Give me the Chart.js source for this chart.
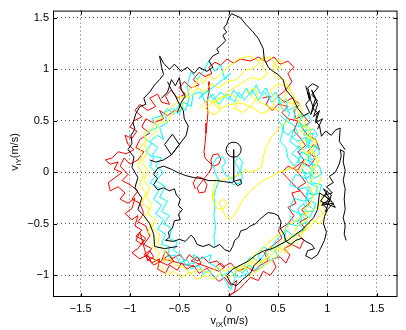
<!DOCTYPE html>
<html>
<head>
<meta charset="utf-8">
<script src="https://cdn.jsdelivr.net/npm/chart.js@4"></script>
<style>
  body { margin: 0; background: #fff; }
  canvas { display: block; }
</style>
</head>
<body>
<canvas id="traj" width="406" height="330"></canvas>
<script>
// axis ticks
const xTicks = [-1.5, -1, -0.5, 0, 0.5, 1, 1.5];
const yTicks = [-1, -0.5, 0, 0.5, 1, 1.5];

// start marker (black circle)
const blackStart = [[0.05, 0.22]];

// black traces
const blackInner = [[0.05,0.22],[0.05,0.12],[0.05,0.02],[0.05,-0.08],[0.09,-0.13],[0.13,-0.11],[0.12,-0.07],[0.07,-0.08],[0.03,-0.1],[-0.05,-0.09],[-0.12,-0.08],[-0.2,-0.08],[-0.28,-0.06],[-0.36,-0.05],[-0.44,-0.03],[-0.52,0.0],[-0.58,0.03],[-0.66,0.06],[-0.72,0.04],[-0.76,-0.02],[-0.72,-0.06],[-0.76,-0.12],[-0.72,-0.17],[-0.66,-0.15],[-0.6,-0.18],[-0.55,-0.16],[-0.53,-0.22],[-0.49,-0.26],[-0.51,-0.32],[-0.47,-0.36],[-0.51,-0.41],[-0.49,-0.46],[-0.55,-0.47],[-0.57,-0.54],[-0.61,-0.58],[-0.6,-0.63],[-0.64,-0.66],[-0.56,-0.67],[-0.5,-0.65],[-0.44,-0.67],[-0.38,-0.61],[-0.35,-0.64],[-0.32,-0.7],[-0.26,-0.72],[-0.2,-0.7],[-0.15,-0.73],[-0.09,-0.7],[-0.04,-0.75],[0.01,-0.77],[0.04,-0.72],[0.06,-0.66],[0.1,-0.63],[0.12,-0.57],[0.18,-0.55],[0.22,-0.52],[0.27,-0.5],[0.31,-0.46],[0.36,-0.42],[0.4,-0.39],[0.46,-0.4],[0.5,-0.42],[0.53,-0.48],[0.52,-0.54],[0.56,-0.6],[0.58,-0.67],[0.63,-0.7],[0.68,-0.66],[0.74,-0.64],[0.78,-0.67],[0.84,-0.7],[0.87,-0.74],[0.8,-0.76],[0.78,-0.81],[0.84,-0.84],[0.9,-0.8],[0.93,-0.74],[0.97,-0.66],[0.99,-0.58],[0.96,-0.5],[0.97,-0.43],[1.0,-0.36],[0.95,-0.3],[1.03,-0.28],[0.97,-0.22],[1.05,-0.2],[0.99,-0.14],[1.06,-0.1],[1.02,-0.04],[1.08,0.0],[1.12,0.08],[1.14,0.16],[1.13,0.22],[1.17,0.2],[1.16,0.1],[1.18,0.02],[1.16,-0.08],[1.18,-0.16],[1.17,-0.26],[1.18,-0.36],[1.16,-0.44],[1.18,-0.52],[1.17,-0.6],[1.19,-0.66]];
const blackOuter = [[1.18,0.22],[1.12,0.3],[1.13,0.43],[1.08,0.41],[1.04,0.36],[0.98,0.4],[0.94,0.35],[0.92,0.45],[0.88,0.5],[0.9,0.58],[0.85,0.62],[0.9,0.7],[0.84,0.75],[0.91,0.83],[0.85,0.86],[0.8,0.82],[0.83,0.72],[0.78,0.66],[0.82,0.58],[0.76,0.55],[0.7,0.62],[0.65,0.72],[0.58,0.8],[0.55,0.9],[0.5,0.95],[0.45,0.98],[0.4,1.02],[0.36,1.1],[0.35,1.2],[0.3,1.3],[0.24,1.37],[0.17,1.44],[0.12,1.5],[0.03,1.54],[0.0,1.5],[-0.02,1.44],[-0.05,1.4],[-0.02,1.36],[-0.06,1.33],[-0.03,1.28],[-0.08,1.23],[-0.12,1.2],[-0.1,1.16],[-0.16,1.13],[-0.2,1.08],[-0.16,1.02],[-0.22,0.98],[-0.3,1.02],[-0.35,0.96],[-0.42,1.02],[-0.48,0.98],[-0.55,1.05],[-0.6,1.0],[-0.66,1.06],[-0.7,1.13],[-0.68,1.02],[-0.66,0.95],[-0.7,0.9],[-0.75,0.85],[-0.8,0.78],[-0.86,0.72],[-0.84,0.66],[-0.9,0.64],[-0.94,0.57],[-0.97,0.48],[-0.95,0.42],[-0.99,0.36],[-0.98,0.28],[-1.02,0.22],[-0.96,0.15],[-0.98,0.05],[-0.92,-0.05],[-0.95,-0.15],[-0.88,-0.25],[-0.92,-0.36],[-0.86,-0.42],[-0.8,-0.5],[-0.76,-0.6],[-0.75,-0.72],[-0.65,-0.74],[-0.52,-0.72]];
const blackDiamond = [[-0.62,0.88],[-0.58,0.8],[-0.54,0.74],[-0.5,0.66],[-0.46,0.6],[-0.45,0.52],[-0.41,0.45],[-0.43,0.36],[-0.5,0.27],[-0.57,0.37],[-0.65,0.27],[-0.58,0.17],[-0.5,0.27],[-0.58,0.17],[-0.66,0.12],[-0.74,0.1],[-0.8,0.12]];
const blackBottom = [[0.33,-0.84],[0.26,-0.9],[0.22,-0.98],[0.14,-1.04],[0.08,-1.1],[0.02,-1.08],[-0.02,-1.0],[0.04,-0.94],[0.12,-0.9],[0.2,-0.86],[0.28,-0.8],[0.36,-0.76],[0.44,-0.74],[0.52,-0.7],[0.6,-0.66],[0.68,-0.6],[0.74,-0.56],[0.8,-0.5],[0.86,-0.44],[0.9,-0.36],[0.92,-0.2],[1.02,-0.26],[0.94,-0.32],[1.06,-0.3],[0.98,-0.38],[1.04,-0.22],[0.96,-0.16],[1.08,-0.34],[0.93,-0.28],[1.0,-0.18]];
const blackJagRight = [[0.78,0.84],[0.82,0.7],[0.8,0.78],[0.86,0.62],[0.83,0.56],[0.88,0.72],[0.84,0.8],[0.9,0.66],[0.86,0.54],[0.92,0.6],[0.88,0.48],[0.95,0.52],[0.9,0.42]];
const blackJagLeft = [[-0.68,0.72],[-0.62,0.78],[-0.58,0.9],[-0.54,0.84],[-0.5,0.92],[-0.48,0.8],[-0.44,0.74],[-0.48,0.68],[-0.52,0.58]];

// yellow traces
const yellowRing = [[0.22,1.13],[0.3,1.08],[0.37,1.12],[0.34,1.02],[0.4,0.96],[0.32,0.9],[0.22,0.92],[0.12,0.86],[0.0,0.79],[-0.08,0.72],[-0.16,0.67],[-0.1,0.62],[0.02,0.66],[0.14,0.67],[0.25,0.62],[0.34,0.57],[0.44,0.62],[0.47,0.7],[0.42,0.8],[0.5,0.86],[0.6,0.83],[0.66,0.74],[0.66,0.64],[0.72,0.56],[0.78,0.48],[0.72,0.4],[0.82,0.34],[0.9,0.3],[0.84,0.2],[0.92,0.12],[0.86,0.02],[0.94,-0.06],[0.88,-0.16],[0.96,-0.24],[0.9,-0.34],[0.98,-0.42],[0.92,-0.5],[0.84,-0.46],[0.78,-0.54],[0.72,-0.64],[0.64,-0.7],[0.58,-0.78],[0.5,-0.72],[0.42,-0.82],[0.34,-0.88],[0.26,-0.84],[0.2,-0.94],[0.12,-0.9],[0.06,-0.98],[0.0,-1.02],[-0.08,-0.98],[-0.16,-1.04],[-0.24,-1.0],[-0.32,-1.04],[-0.4,-0.97],[-0.48,-1.02],[-0.56,-0.96],[-0.62,-1.0],[-0.68,-0.92],[-0.74,-0.86],[-0.7,-0.78],[-0.78,-0.72],[-0.74,-0.64],[-0.82,-0.58],[-0.78,-0.5],[-0.86,-0.44],[-0.8,-0.36],[-0.88,-0.3],[-0.84,-0.2],[-0.9,-0.12],[-0.86,-0.02],[-0.92,0.06],[-0.88,0.16],[-0.9,0.24],[-0.84,0.3],[-0.86,0.38],[-0.78,0.42],[-0.74,0.5],[-0.66,0.54],[-0.6,0.62],[-0.54,0.66],[-0.5,0.74],[-0.44,0.72],[-0.4,0.8],[-0.34,0.84],[-0.3,0.92],[-0.26,0.86],[-0.2,0.94],[-0.14,0.9],[-0.06,0.98],[0.02,1.04],[0.1,1.1],[0.22,1.13]];
const yellowRing2 = [[0.5,1.0],[0.56,1.06],[0.5,1.1],[0.44,1.02],[0.48,0.92],[0.56,0.9],[0.62,0.82],[0.56,0.74],[0.62,0.66],[0.7,0.7],[0.74,0.6],[0.68,0.52],[0.76,0.46],[0.84,0.42],[0.8,0.32],[0.72,0.28],[0.78,0.18],[0.86,0.2],[0.9,0.08],[0.82,0.04],[0.86,-0.06],[0.8,-0.12],[0.86,-0.22],[0.82,-0.32],[0.76,-0.36],[0.8,-0.46],[0.7,-0.52],[0.64,-0.62],[0.56,-0.66],[0.5,-0.76],[0.42,-0.72],[0.38,-0.84],[0.28,-0.9],[0.22,-0.86],[0.14,-0.96],[0.04,-0.92],[-0.04,-0.96],[-0.12,-0.92],[-0.2,-0.98],[-0.3,-0.94],[-0.38,-0.98],[-0.46,-0.92],[-0.54,-0.9],[-0.6,-0.84],[-0.66,-0.86],[-0.64,-0.76],[-0.72,-0.7],[-0.7,-0.6],[-0.78,-0.54],[-0.74,-0.46],[-0.82,-0.4],[-0.78,-0.3],[-0.84,-0.24],[-0.8,-0.14],[-0.86,-0.08],[-0.82,0.02],[-0.88,0.1],[-0.82,0.2],[-0.86,0.28],[-0.8,0.34],[-0.74,0.4],[-0.7,0.48],[-0.62,0.5],[-0.56,0.58],[-0.48,0.62],[-0.46,0.72],[-0.38,0.74],[-0.32,0.82],[-0.24,0.78],[-0.18,0.86],[-0.1,0.82],[-0.02,0.88],[0.08,0.9],[0.16,0.98],[0.26,1.02],[0.34,1.1],[0.42,1.12],[0.5,1.0]];
const yellowDiag = [[0.1,-0.95],[0.18,-0.88],[0.26,-0.8],[0.34,-0.74],[0.4,-0.68],[0.48,-0.62],[0.56,-0.58],[0.62,-0.5],[0.7,-0.46],[0.78,-0.4],[0.86,-0.36],[0.94,-0.3],[0.98,-0.38],[0.9,-0.45],[0.8,-0.55],[0.7,-0.6],[0.6,-0.7],[0.5,-0.8],[0.4,-0.88],[0.3,-0.95],[0.2,-1.02]];
const yellowCenter = [[0.6,0.5],[0.53,0.45],[0.44,0.35],[0.38,0.25],[0.35,0.15],[0.33,0.05],[0.28,0.02],[0.2,0.0],[0.17,0.03],[0.12,-0.02],[0.02,-0.05],[-0.08,-0.08],[-0.13,-0.08],[-0.16,-0.18],[-0.16,-0.27],[-0.12,-0.35],[-0.06,-0.36],[-0.02,-0.31],[-0.05,-0.26],[-0.1,-0.29],[-0.08,-0.33],[-0.03,-0.43],[0.0,-0.46],[0.07,-0.4],[0.14,-0.27],[0.22,-0.18],[0.27,-0.14],[0.34,-0.08],[0.42,-0.05],[0.5,0.0],[0.58,0.02],[0.65,0.05],[0.72,0.0],[0.8,0.15],[0.85,0.3],[0.78,0.45]];
const yellowLoops = [[-0.3,0.62],[-0.22,0.7],[-0.12,0.68],[-0.08,0.6],[-0.16,0.56],[-0.24,0.62],[-0.1,0.72],[0.04,0.76],[0.1,0.7],[0.06,0.62],[0.14,0.58],[0.24,0.66],[0.3,0.74],[0.26,0.82],[0.18,0.78],[0.28,0.7],[0.4,0.64],[0.5,0.6],[0.56,0.66],[0.52,0.72]];

// cyan traces
const cyanRing = [[-0.3,0.72],[-0.22,0.8],[-0.15,0.7],[-0.08,0.78],[0.0,0.7],[0.05,0.8],[0.12,0.72],[0.18,0.82],[0.22,0.74],[0.28,0.85],[0.32,0.76],[0.38,0.82],[0.42,0.72],[0.48,0.78],[0.52,0.66],[0.58,0.72],[0.6,0.6],[0.68,0.64],[0.66,0.52],[0.74,0.56],[0.7,0.44],[0.8,0.46],[0.76,0.36],[0.86,0.38],[0.8,0.26],[0.9,0.24],[0.82,0.15],[0.74,0.2],[0.7,0.1],[0.8,0.06],[0.88,0.0],[0.78,-0.06],[0.68,-0.02],[0.62,-0.12],[0.72,-0.16],[0.82,-0.14],[0.86,-0.24],[0.76,-0.28],[0.66,-0.25],[0.62,-0.36],[0.72,-0.4],[0.8,-0.48],[0.7,-0.52],[0.6,-0.5],[0.55,-0.6],[0.48,-0.66],[0.42,-0.76],[0.35,-0.72],[0.3,-0.82],[0.36,-0.9],[0.28,-0.95],[0.2,-0.9],[0.14,-0.98],[0.08,-0.92],[0.06,-1.04],[0.02,-1.14],[-0.03,-1.06],[-0.08,-0.98],[-0.14,-1.03],[-0.2,-0.95],[-0.26,-0.99],[-0.3,-0.9],[-0.38,-0.94],[-0.42,-0.85],[-0.5,-0.88],[-0.54,-0.8],[-0.62,-0.82],[-0.6,-0.72],[-0.68,-0.7],[-0.64,-0.6],[-0.72,-0.55],[-0.66,-0.46],[-0.74,-0.4],[-0.68,-0.32],[-0.76,-0.26],[-0.7,-0.16],[-0.8,-0.1],[-0.72,-0.02],[-0.8,0.06],[-0.76,0.14],[-0.84,0.2],[-0.78,0.28],[-0.86,0.34],[-0.8,0.4],[-0.72,0.44],[-0.78,0.52],[-0.68,0.55],[-0.62,0.62],[-0.56,0.56],[-0.5,0.66],[-0.44,0.6],[-0.4,0.72],[-0.42,0.85],[-0.38,0.98],[-0.32,0.9],[-0.26,0.98],[-0.2,1.08],[-0.14,0.98],[-0.08,1.05],[-0.04,0.9],[0.02,0.96],[-0.3,0.72]];
const cyanRing2 = [[0.7,0.3],[0.78,0.34],[0.82,0.28],[0.76,0.22],[0.7,0.26],[0.74,0.14],[0.84,0.1],[0.86,0.02],[0.78,-0.02],[0.74,0.04],[0.8,-0.1],[0.9,-0.14],[0.88,-0.22],[0.8,-0.2],[0.78,-0.3],[0.86,-0.36],[0.82,-0.44],[0.74,-0.4],[0.7,-0.48],[0.76,-0.56],[0.66,-0.62],[0.58,-0.56],[0.56,-0.68],[0.46,-0.74],[0.5,-0.82],[0.42,-0.86],[0.38,-0.78],[0.3,-0.86],[0.22,-0.82],[0.16,-0.9],[0.2,-0.98],[0.1,-1.02],[0.02,-0.96],[-0.06,-1.0],[-0.12,-0.92],[-0.2,-0.88],[-0.18,-0.8],[-0.28,-0.84],[-0.36,-0.8],[-0.34,-0.88],[-0.44,-0.9],[-0.48,-0.8],[-0.56,-0.76],[-0.52,-0.68],[-0.6,-0.64],[-0.58,-0.54],[-0.66,-0.5],[-0.6,-0.42],[-0.68,-0.38],[-0.62,-0.28],[-0.7,-0.24],[-0.64,-0.14],[-0.74,-0.08],[-0.66,0.0],[-0.74,0.06],[-0.68,0.14],[-0.78,0.16],[-0.72,0.24],[-0.8,0.3],[-0.72,0.36],[-0.66,0.32],[-0.7,0.44],[-0.62,0.48],[-0.66,0.58],[-0.56,0.62],[-0.5,0.56],[-0.46,0.68],[-0.38,0.64],[-0.36,0.76],[-0.28,0.78],[-0.24,0.68],[-0.16,0.76],[-0.1,0.66],[-0.02,0.76],[0.06,0.68],[0.1,0.78],[0.16,0.7],[0.24,0.8],[0.3,0.7],[0.36,0.78],[0.44,0.68],[0.5,0.74],[0.54,0.62],[0.62,0.58],[0.58,0.5],[0.66,0.46],[0.7,0.38],[0.64,0.34],[0.7,0.3]];
const cyanCurls = [[0.72,0.52],[0.8,0.56],[0.84,0.5],[0.78,0.44],[0.72,0.48],[0.76,0.4],[0.86,0.42],[0.9,0.36],[0.84,0.3],[0.78,0.34],[0.8,0.24],[0.9,0.26],[0.92,0.18],[0.84,0.12],[0.8,0.18],[0.82,0.08],[0.92,0.06],[0.94,-0.02],[0.86,-0.06],[0.82,0.0],[0.84,-0.1],[0.94,-0.12],[0.92,-0.2],[0.84,-0.22],[0.8,-0.16],[0.78,-0.26],[0.88,-0.3],[0.86,-0.38],[0.78,-0.38],[0.76,-0.3],[0.7,-0.36],[0.74,-0.46],[0.66,-0.48],[0.62,-0.42]];
const cyanTop = [[0.52,0.56],[0.58,0.5],[0.54,0.42],[0.6,0.36],[0.66,0.42],[0.62,0.3],[0.7,0.24],[0.64,0.18],[0.72,0.12],[0.66,0.06],[0.6,0.14],[0.58,0.24],[0.52,0.3],[0.56,0.44],[0.5,0.5]];
const cyanCenter = [[-0.14,-0.72],[-0.15,-0.62],[-0.13,-0.52],[-0.15,-0.42],[-0.14,-0.32],[-0.15,-0.24],[-0.13,-0.16],[-0.1,-0.08],[-0.14,0.0],[-0.16,0.08],[-0.12,0.14],[-0.06,0.15],[-0.03,0.1],[-0.07,0.05],[-0.04,-0.02],[0.02,-0.06],[0.08,-0.04],[0.12,0.02],[0.14,0.1],[0.1,0.15],[0.06,0.1],[0.1,0.04],[0.14,-0.04],[0.12,-0.1],[0.05,-0.12],[0.0,-0.08]];

// red traces
const redRing = [[0.12,1.1],[0.05,1.06],[-0.02,1.1],[-0.08,1.04],[-0.14,1.07],[-0.2,1.02],[-0.17,0.96],[-0.24,0.93],[-0.3,0.97],[-0.36,0.9],[-0.3,0.85],[-0.38,0.82],[-0.45,0.88],[-0.5,0.82],[-0.44,0.76],[-0.52,0.72],[-0.58,0.8],[-0.64,0.74],[-0.6,0.66],[-0.68,0.68],[-0.72,0.76],[-0.8,0.72],[-0.74,0.64],[-0.82,0.6],[-0.9,0.66],[-0.95,0.6],[-0.88,0.54],[-0.96,0.5],[-1.0,0.44],[-0.93,0.4],[-0.98,0.33],[-1.05,0.36],[-1.02,0.27],[-0.96,0.22],[-1.04,0.18],[-1.12,0.2],[-1.18,0.14],[-1.25,0.12],[-1.2,0.08],[-1.12,0.1],[-1.16,0.03],[-1.08,0.0],[-1.15,-0.05],[-1.22,-0.1],[-1.2,-0.18],[-1.12,-0.14],[-1.05,-0.2],[-1.1,-0.26],[-1.02,-0.3],[-0.95,-0.25],[-0.98,-0.35],[-1.05,-0.4],[-0.98,-0.46],[-0.92,-0.42],[-0.95,-0.52],[-0.88,-0.56],[-0.94,-0.62],[-0.86,-0.66],[-0.92,-0.74],[-0.98,-0.78],[-0.9,-0.84],[-0.82,-0.8],[-0.78,-0.88],[-0.7,-0.84],[-0.72,-0.94],[-0.64,-0.98],[-0.6,-0.9],[-0.52,-0.95],[-0.48,-0.88],[-0.42,-0.94],[-0.36,-0.9],[-0.3,-0.98],[-0.22,-0.93],[-0.16,-1.0],[-0.1,-1.06],[-0.04,-1.02],[0.02,-1.1],[0.08,-1.05],[0.06,-1.16],[0.0,-1.2],[0.1,-1.14],[0.16,-1.08],[0.22,-1.02],[0.3,-1.05],[0.35,-0.96],[0.42,-1.0],[0.48,-0.92],[0.44,-0.84],[0.52,-0.82],[0.58,-0.88],[0.62,-0.8],[0.56,-0.74],[0.64,-0.7],[0.72,-0.74],[0.76,-0.66],[0.7,-0.6],[0.78,-0.55],[0.72,-0.48],[0.8,-0.44],[0.74,-0.36],[0.82,-0.3],[0.76,-0.22],[0.7,-0.15],[0.78,-0.1],[0.72,-0.02],[0.66,0.04],[0.74,0.1],[0.82,0.06],[0.88,0.14],[0.8,0.2],[0.86,0.27],[0.92,0.22],[0.88,0.32],[0.8,0.36],[0.74,0.44],[0.82,0.48],[0.76,0.55],[0.68,0.52],[0.66,0.6],[0.72,0.66],[0.64,0.72],[0.56,0.68],[0.5,0.74],[0.58,0.8],[0.64,0.88],[0.6,0.96],[0.66,1.02],[0.6,1.08],[0.52,1.05],[0.46,1.12],[0.38,1.07],[0.3,1.12],[0.22,1.08],[0.12,1.1]];
const redRing2 = [[-0.55,0.6],[-0.62,0.55],[-0.7,0.6],[-0.66,0.52],[-0.76,0.48],[-0.84,0.52],[-0.88,0.44],[-0.8,0.38],[-0.9,0.32],[-0.94,0.24],[-0.86,0.2],[-0.92,0.12],[-1.0,0.08],[-1.06,0.14],[-1.1,0.06],[-1.02,-0.02],[-1.08,-0.08],[-1.0,-0.12],[-0.92,-0.18],[-0.98,-0.26],[-0.9,-0.3],[-0.86,-0.4],[-0.92,-0.48],[-0.84,-0.52],[-0.8,-0.62],[-0.86,-0.7],[-0.78,-0.74],[-0.84,-0.82],[-0.76,-0.9],[-0.68,-0.86],[-0.64,-0.76],[-0.58,-0.84],[-0.5,-0.8],[-0.44,-0.86],[-0.4,-0.8],[-0.32,-0.86],[-0.26,-0.82],[-0.2,-0.88],[-0.12,-0.86],[-0.06,-0.92],[0.02,-0.88],[0.1,-0.96],[0.18,-0.92],[0.26,-0.96],[0.32,-0.9],[0.4,-0.86],[0.36,-0.78],[0.46,-0.7],[0.54,-0.64],[0.5,-0.56],[0.6,-0.5],[0.66,-0.42],[0.6,-0.34],[0.68,-0.3],[0.64,-0.2],[0.72,-0.18],[0.6,-0.06],[0.54,0.0],[0.6,0.06],[0.7,0.02],[0.76,0.12],[0.7,0.2],[0.78,0.26],[0.72,0.34],[0.66,0.4],[0.7,0.5],[0.6,0.52],[0.54,0.58],[0.6,0.64],[0.5,0.66],[0.44,0.6],[0.38,0.66],[0.42,0.74],[0.34,0.72]];
const redLoops = [[-0.9,-0.6],[-0.84,-0.64],[-0.88,-0.7],[-0.94,-0.66],[-0.9,-0.58],[-0.82,-0.86],[-0.76,-0.82],[-0.8,-0.76],[-0.86,-0.8],[-0.62,-0.9],[-0.56,-0.86],[-0.6,-0.8],[-0.66,-0.84],[-0.34,-0.92],[-0.28,-0.88],[-0.32,-0.82],[-0.38,-0.86],[-0.1,-0.96],[-0.04,-0.92],[-0.08,-0.88],[-0.14,-0.92]];
const redCenter = [[-0.2,0.88],[-0.2,0.78],[-0.22,0.68],[-0.21,0.58],[-0.22,0.48],[-0.23,0.38],[-0.24,0.28],[-0.25,0.2],[-0.24,0.14],[-0.2,0.1],[-0.15,0.06],[-0.1,0.08],[-0.08,0.13],[-0.11,0.18],[-0.16,0.17],[-0.18,0.12],[-0.17,0.05],[-0.2,0.0],[-0.24,-0.05],[-0.28,-0.1],[-0.32,-0.15],[-0.3,-0.2],[-0.24,-0.19],[-0.22,-0.12],[-0.26,-0.06],[-0.32,-0.04],[-0.36,-0.1],[-0.34,-0.16]];

const traces = [
  [blackInner, '#000000'], [blackOuter, '#000000'], [blackDiamond, '#000000'], [blackBottom, '#000000'],
  [blackJagRight, '#000000'], [blackJagLeft, '#000000'],
  [yellowRing, '#ffff00'], [yellowRing2, '#ffff00'], [yellowDiag, '#ffff00'], [yellowCenter, '#ffff00'], [yellowLoops, '#ffff00'],
  [cyanRing, '#00ffff'], [cyanRing2, '#00ffff'], [cyanCurls, '#00ffff'], [cyanTop, '#00ffff'], [cyanCenter, '#00ffff'],
  [redRing, '#ff0000'], [redRing2, '#ff0000'], [redLoops, '#ff0000'], [redCenter, '#ff0000']
];

const toXY = pts => pts.map(([x, y]) => ({ x: x, y: y }));

const datasets = [{
  data: toXY(blackStart),
  showLine: false,
  pointRadius: 7.5,
  pointStyle: 'circle',
  borderColor: '#000',
  backgroundColor: 'rgba(0,0,0,0)',
  borderWidth: 1
}];
traces.forEach(([pts, col]) => {
  datasets.push({
    data: toXY(pts),
    showLine: true,
    borderColor: col,
    backgroundColor: col,
    borderWidth: 1,
    pointRadius: 0,
    tension: 0
  });
});

const minus = v => v < 0 ? '\u2212' + Math.abs(v) : String(v);
const tickFont = { family: '"Liberation Sans", Arial, sans-serif', size: 11 };

// draws box, inward ticks and the subscripted axis titles
const matlabAxes = {
  id: 'matlabAxes',
  afterDraw(chart) {
    const ctx = chart.ctx;
    const a = chart.chartArea;
    const sx = chart.scales.x, sy = chart.scales.y;
    ctx.save();
    ctx.strokeStyle = '#000';
    ctx.lineWidth = 1;
    ctx.strokeRect(a.left + 0.5, a.top + 0.5, a.right - a.left - 1, a.bottom - a.top - 1);
    ctx.beginPath();
    xTicks.forEach(v => {
      const px = Math.round(sx.getPixelForValue(v)) + 0.5;
      ctx.moveTo(px, a.bottom); ctx.lineTo(px, a.bottom - 4);
      ctx.moveTo(px, a.top); ctx.lineTo(px, a.top + 4);
    });
    yTicks.forEach(v => {
      const py = Math.round(sy.getPixelForValue(v)) + 0.5;
      ctx.moveTo(a.left, py); ctx.lineTo(a.left + 4, py);
      ctx.moveTo(a.right, py); ctx.lineTo(a.right - 4, py);
    });
    ctx.stroke();

    const parts = (sub) => [['v', 11, 0], [sub, 8, 3], ['(m/s)', 11, 0]];
    const drawLabel = (list, cx, base) => {
      let w = 0;
      list.forEach(([t, s]) => { ctx.font = s + 'px "Liberation Sans", Arial, sans-serif'; w += ctx.measureText(t).width; });
      let x0 = cx - w / 2;
      ctx.fillStyle = '#000';
      ctx.textBaseline = 'alphabetic';
      ctx.textAlign = 'left';
      list.forEach(([t, s, dy]) => {
        ctx.font = s + 'px "Liberation Sans", Arial, sans-serif';
        ctx.fillText(t, x0, base + dy);
        x0 += ctx.measureText(t).width;
      });
    };
    drawLabel(parts('iX'), (a.left + a.right) / 2 + 4, 324);
    ctx.translate(18, 152);
    ctx.rotate(-Math.PI / 2);
    drawLabel(parts('iY'), 0, 0);
    ctx.restore();
  }
};

const gridOpts = { color: 'rgba(0,0,0,0.65)', drawTicks: false, lineWidth: 1 };
const borderOpts = { display: false, dash: [1, 3] };

new Chart(document.getElementById('traj'), {
  type: 'scatter',
  data: { datasets: datasets },
  options: {
    responsive: false,
    animation: false,
    layout: { padding: { top: 6, right: 1, left: 0, bottom: 0 } },
    plugins: { legend: { display: false }, tooltip: { enabled: false } },
    scales: {
      x: {
        type: 'linear',
        min: -1.78,
        max: 1.71,
        afterBuildTicks: s => { s.ticks = xTicks.map(v => ({ value: v })); },
        afterFit: s => { s.height = 33; },
        grid: gridOpts,
        border: borderOpts,
        ticks: { color: '#000', font: tickFont, padding: 5, maxRotation: 0, callback: v => minus(v) }
      },
      y: {
        type: 'linear',
        min: -1.21,
        max: 1.57,
        afterBuildTicks: s => { s.ticks = yTicks.map(v => ({ value: v })); },
        afterFit: s => { s.width = 53; },
        grid: gridOpts,
        border: borderOpts,
        ticks: { color: '#000', font: tickFont, padding: 4, callback: v => minus(v) }
      }
    }
  },
  plugins: [matlabAxes]
});
</script>
</body>
</html>
